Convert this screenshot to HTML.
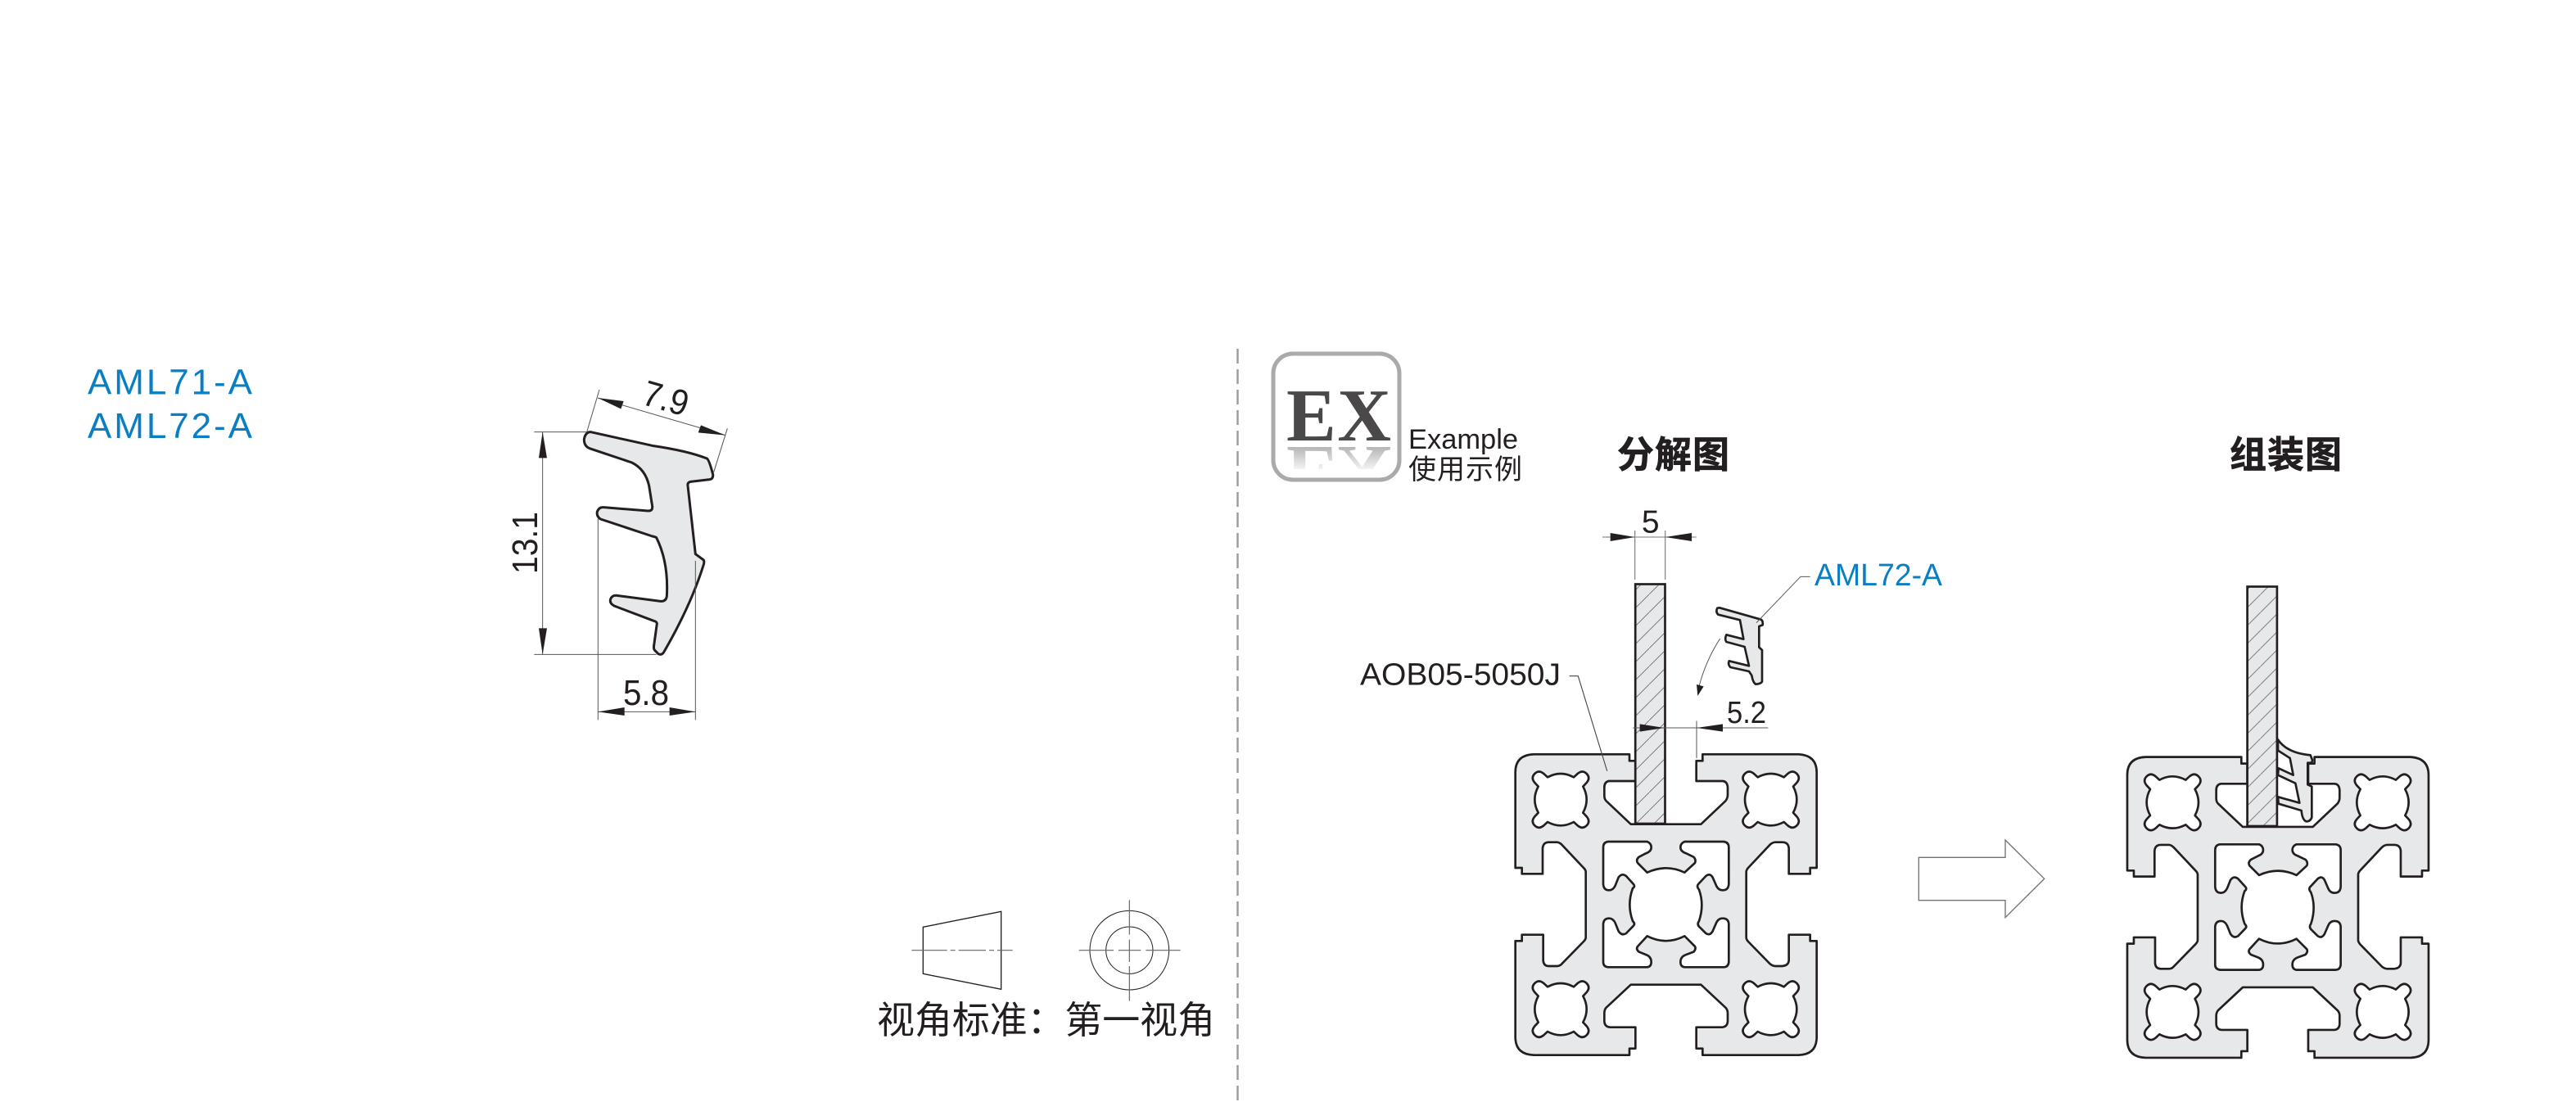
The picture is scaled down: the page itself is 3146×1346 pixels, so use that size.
<!DOCTYPE html>
<html><head><meta charset="utf-8"><style>
html,body{margin:0;padding:0;background:#fff}
svg{display:block}
text{font-family:"Liberation Sans","Noto Sans CJK SC",sans-serif;fill:#231f20}
</style></head><body>
<svg xmlns="http://www.w3.org/2000/svg" width="3146" height="1346" viewBox="0 0 3146 1346">
<defs>
<pattern id="h1" patternUnits="userSpaceOnUse" x="12" y="0" width="22" height="22"><rect width="22" height="22" fill="#e7e8ea"/><path d="M-2 24L24 -2" stroke="#6d6e70" stroke-width=".9"/></pattern>
<pattern id="h2" patternUnits="userSpaceOnUse" x="10.7" y="0" width="22" height="22"><rect width="22" height="22" fill="#e7e8ea"/><path d="M-2 24L24 -2" stroke="#6d6e70" stroke-width=".9"/></pattern>
<linearGradient id="refl" gradientUnits="userSpaceOnUse" x1="0" y1="538" x2="0" y2="506"><stop offset="0" stop-color="#b5b5b5"/><stop offset="1" stop-color="#fff"/></linearGradient>
<path id="clv" d="M-48 -82Q0 -108 48 -82L62 -95Q80 -110 95 -95Q110 -80 95 -62L82 -48Q108 0 82 48L95 62Q110 80 95 95Q80 110 62 95L48 82Q0 108 -48 82L-62 95Q-80 110 -95 95Q-110 80 -95 62L-82 48Q-108 0 -82 -48L-95 -62Q-110 -80 -95 -95Q-80 -110 -62 -95Z"/>
<g id="profile" stroke="#231f20" stroke-width="8" stroke-linejoin="round">
<path fill="#e7e8ea" d="M160 64L510 64L510 88L532 88L532 162L435 162Q418 165 418 185L418 215Q418 228 425 235L515 320L772 320L862 235Q870 225 870 212L870 185Q868 162 850 162L755 162L755 88L778 88L778 64L1130 64Q1196 68 1196 130L1196 480L1172 480L1172 502L1094 502L1094 408Q1092 386 1070 386L1045 386Q1035 386 1025 395L945 480Q938 488 938 495L938 735Q938 742 945 750L1025 832Q1035 840 1045 840L1070 840Q1092 838 1094 820L1094 725L1172 725L1172 748L1196 748L1196 1100Q1196 1164 1130 1166L778 1166L778 1142L755 1142L755 1064L850 1064Q870 1062 870 1040L870 1012Q870 1000 862 992L772 908L515 908L425 992Q418 1000 418 1012L418 1040Q418 1062 438 1064L532 1064L532 1142L510 1142L510 1166L160 1166Q92 1164 92 1100L92 748L116 748L116 725L194 725L194 820Q196 840 215 840L245 840Q255 840 262 832L342 750Q350 742 350 735L350 495Q350 488 342 480L262 395Q252 386 245 386L215 386Q194 386 192 408L192 502L116 502L116 480L92 480L92 130Q92 66 160 64Z"/>
<path fill="#fff" d="M432 384L575 384Q590 390 590 405Q590 420 570 427L545 440Q533 450 540 462L575 497Q644 465 712 497L750 462Q755 450 745 440L718 427Q697 420 697 405Q697 390 712 384L855 384Q874 386 874 405L874 540Q872 562 852 562Q835 562 828 545L815 515Q805 498 790 510L762 540Q755 548 765 560Q785 615 765 675Q755 688 770 700L790 720Q805 730 815 712L828 682Q835 665 852 665Q872 665 874 685L874 825Q872 844 855 844L712 844Q697 842 697 825Q697 805 718 798L745 788Q755 778 750 768L712 730Q644 765 575 730L540 768Q533 778 545 788L570 798Q590 805 590 825Q590 842 575 844L432 844Q414 842 414 825L414 685Q416 665 435 665Q450 665 458 682L470 712Q482 730 498 720L525 692Q532 685 522 675Q500 615 522 555Q532 548 525 540L498 510Q482 498 470 515L458 545Q450 562 435 562Q416 562 414 540L414 405Q414 386 432 384Z"/>
<use href="#clv" fill="#fff" transform="translate(258,230)"/>
<use href="#clv" fill="#fff" transform="translate(1028,230)"/>
<use href="#clv" fill="#fff" transform="translate(258,998)"/>
<use href="#clv" fill="#fff" transform="translate(1028,998)"/>
</g>
</defs>
<rect width="3146" height="1346" fill="#fff"/>

<!-- left labels -->
<text x="107" y="481.5" font-size="44" textLength="201" style="fill:#0a7ec2">AML71-A</text>
<text x="107" y="535" font-size="44" textLength="201" style="fill:#0a7ec2">AML72-A</text>

<!-- seal drawing -->
<g transform="translate(580,420) scale(.33333)">
<path fill="#e7e8ea" stroke="#231f20" stroke-width="9" stroke-linejoin="round" d="M425 323L650 373Q780 392 850 420Q858 425 872 478Q874 495 860 497L790 505Q778 508 780 520L808 770L838 792Q842 800 836 815Q790 960 692 1130Q684 1142 672 1136L658 1122Q654 1115 656 1105L667 1025Q667 1018 655 1015L510 960Q492 950 497 935Q503 920 520 922L680 943Q700 945 703 925Q710 800 665 710Q660 707 650 705L460 642Q445 632 448 615Q455 597 472 599L635 612Q652 612 650 595L638 520Q625 460 575 435L420 383Q400 375 400 350Q405 322 425 323Z"/>
<g stroke="#555" stroke-width="3" fill="none">
<path d="M217 323H410M217 1138H665M248 323V1138M451 640V1378M808 795V1378M451 1348H808M456 168L410 323M925 310L875 470M450 198L918 335"/>
</g>
<g fill="#231f20">
<path d="M248 323L234 418H264Z"/><path d="M248 1138L234 1042H264Z"/>
<path d="M451 1348L548 1332V1362Z"/><path d="M808 1348L713 1332V1362Z"/>
<path d="M450 198L545 210L535 238Z"/><path d="M918 335L828 298L818 325Z"/>
</g>
</g>
<text x="761" y="861" font-size="44" textLength="56" lengthAdjust="spacingAndGlyphs">5.8</text>
<text transform="translate(656,663) rotate(-90)" font-size="44" text-anchor="middle" textLength="76" lengthAdjust="spacingAndGlyphs">13.1</text>
<text transform="translate(809,501) rotate(16)" font-size="44" text-anchor="middle" textLength="56" lengthAdjust="spacingAndGlyphs">7.9</text>

<!-- view symbol -->
<g transform="translate(1040,1080) scale(.33333)" fill="none">
<path d="M262 157L548 100V385L262 328Z" stroke="#231f20" stroke-width="4"/>
<path d="M220 242H590" stroke="#666" stroke-width="3.5" stroke-dasharray="130 12 18 12 100 12 18 12 200"/>
<circle cx="1018" cy="242" r="145" stroke="#231f20" stroke-width="3"/>
<circle cx="1018" cy="242" r="86" stroke="#231f20" stroke-width="3"/>
<path d="M833 242H960M978 242H1060M1078 242H1205M1018 58V185M1018 203V285M1018 300V428" stroke="#666" stroke-width="3.5"/>
</g>
<text x="1071" y="1262" font-size="46" textLength="413">视角标准：第一视角</text>

<!-- divider -->
<path d="M1511.5 426V1346" stroke="#9a9b9d" stroke-width="2.4" stroke-dasharray="18 7"/>

<!-- EX badge -->
<rect x="1555" y="432" width="154" height="154" rx="24" fill="#fff" stroke="#a9aaac" stroke-width="5"/>
<clipPath id="rc"><rect x="1560" y="541" width="145" height="32"/></clipPath>
<g clip-path="url(#rc)"><text transform="translate(0,1084) scale(1,-1)" x="1571" y="538" font-size="91" font-weight="bold" textLength="128" style="font-family:'Liberation Serif',serif;fill:url(#refl)">EX</text></g>
<text x="1571" y="538" font-size="91" font-weight="bold" textLength="128" style="font-family:'Liberation Serif',serif;fill:#4a4849">EX</text>
<text x="1720" y="548" font-size="34" textLength="134" lengthAdjust="spacingAndGlyphs">Example</text>
<text x="1720" y="585" font-size="34" textLength="139">使用示例</text>

<!-- headings -->
<text x="1975" y="571" font-size="45" font-weight="bold" textLength="137" stroke="#231f20" stroke-width=".7">分解图</text>
<text x="2723" y="571" font-size="45" font-weight="bold" textLength="137" stroke="#231f20" stroke-width=".7">组装图</text>

<!-- exploded view -->
<use href="#profile" transform="translate(1820,900) scale(.33333)"/>
<rect x="1997.2" y="713.5" width="36.3" height="292.5" fill="url(#h1)" stroke="#231f20" stroke-width="2.7"/>

<g stroke="#777" stroke-width="1.1" fill="none">
<path d="M1996.7 648V708M2033.7 648V708"/>
<path d="M1957 656H2071.7"/>
<path d="M1916.7 825.7H1927.3L1962.7 941.7" stroke="#444"/>
</g>
<g fill="#231f20">
<path d="M1996.7 656L1966.7 651V661Z"/><path d="M2033.7 656L2066 651V661Z"/>
</g>
<text x="2015.7" y="650.5" font-size="39" text-anchor="middle">5</text>
<text x="1661" y="836.5" font-size="38" textLength="245" lengthAdjust="spacingAndGlyphs">AOB05-5050J</text>

<g transform="translate(1960,670) scale(.33333)">
<path fill="#e7e8ea" stroke="#231f20" stroke-width="8" stroke-linejoin="round" d="M420 217L572 260Q580 265 578 280L565 285V362L576 372V488Q570 497 552 497Q542 490 538 465L528 450L460 435Q450 425 455 412L528 430L512 360L445 342Q438 332 445 316L508 332L495 262L415 242Q405 232 412 218Z"/>
<path fill="none" stroke="#555" stroke-width="3" d="M752 103H717L555 272M422 330Q370 410 345 505M103 657H598M336 632V768"/>
<path fill="#231f20" d="M340 540L336 498L362 505Z"/>
<path fill="#231f20" d="M218 657L128 643V671Z"/><path fill="#231f20" d="M336 657L432 643V671Z"/>
</g>
<text x="2216" y="715" font-size="38" textLength="156" lengthAdjust="spacingAndGlyphs" style="fill:#0a7ec2">AML72-A</text>
<text x="2109" y="883" font-size="38" textLength="48" lengthAdjust="spacingAndGlyphs">5.2</text>

<!-- big arrow -->
<g transform="translate(2300,1000) scale(.33333)"><path d="M130 142H447V78L590 220L447 362V299H130Z" fill="#fff" stroke="#707172" stroke-width="4"/></g>

<!-- assembled view -->
<use href="#profile" transform="translate(2567.3,903.3) scale(.33333)"/>
<rect x="2744.6" y="716.5" width="36.3" height="292.5" fill="url(#h2)" stroke="#231f20" stroke-width="2.7"/>
<g transform="translate(2560,690) scale(.33333)">
<path fill="#e7e8ea" stroke="#231f20" stroke-width="8" stroke-linejoin="round" d="M666 640Q700 690 785 697L792 715L790 725H775V805L790 812V925Q785 940 770 940Q755 935 752 900L668 875L666 850L745 872L730 800L666 770L668 745L722 770L710 708L666 680Z"/>
</g>
</svg>
</body></html>
